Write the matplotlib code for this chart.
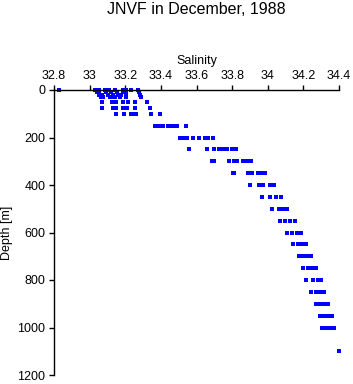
import matplotlib
matplotlib.use("Agg")
import matplotlib.pyplot as plt

plt.rcParams['font.family'] = ['Liberation Sans', 'DejaVu Sans']

depth_levels = [0, 10, 20, 30, 50, 75, 100, 150, 200, 250, 300, 350, 400, 450,
                500, 550, 600, 650, 700, 750, 800, 850, 900, 950, 1000, 1100]

salinity_by_level = [
    [32.83, 33.03, 33.04, 33.055, 33.085, 33.11, 33.145, 33.185, 33.205, 33.23, 33.27],
    [33.041, 33.055, 33.092, 33.122, 33.153, 33.187, 33.204, 33.277],
    [33.055, 33.069, 33.103, 33.131, 33.162, 33.176, 33.207, 33.284],
    [33.064, 33.075, 33.114, 33.137, 33.142, 33.173, 33.207, 33.29],
    [33.071, 33.125, 33.148, 33.187, 33.215, 33.253, 33.323],
    [33.071, 33.131, 33.148, 33.187, 33.209, 33.253, 33.337],
    [33.149, 33.193, 33.232, 33.249, 33.26, 33.346, 33.393],
    [33.366, 33.378, 33.389, 33.413, 33.439, 33.456, 33.473, 33.49, 33.539],
    [33.507, 33.529, 33.549, 33.582, 33.613, 33.647, 33.664, 33.695],
    [33.56, 33.658, 33.697, 33.728, 33.75, 33.773, 33.798, 33.821],
    [33.686, 33.697, 33.784, 33.81, 33.826, 33.86, 33.882, 33.905],
    [33.804, 33.812, 33.888, 33.91, 33.944, 33.967, 33.983],
    [33.902, 33.95, 33.972, 34.011, 34.034],
    [33.97, 34.011, 34.045, 34.073],
    [34.023, 34.065, 34.087, 34.11],
    [34.07, 34.096, 34.124, 34.152],
    [34.11, 34.135, 34.163, 34.188],
    [34.143, 34.168, 34.19, 34.216],
    [34.174, 34.197, 34.219, 34.244],
    [34.2, 34.227, 34.247, 34.27],
    [34.216, 34.255, 34.28, 34.297],
    [34.244, 34.27, 34.292, 34.314],
    [34.27, 34.292, 34.314, 34.337],
    [34.292, 34.314, 34.337, 34.359],
    [34.303, 34.325, 34.348, 34.37],
    [34.398],
]

x_ticks = [32.8, 33.0, 33.2, 33.4, 33.6, 33.8, 34.0, 34.2, 34.4]
x_tick_labels = ['32.8', '33', '33.2', '33.4', '33.6', '33.8', '34', '34.2', '34.4']
y_ticks = [0, 200, 400, 600, 800, 1000, 1200]

sal = []
dep = []
for d, vals in zip(depth_levels, salinity_by_level):
    for v in vals:
        sal.append(v)
        dep.append(d)

W, H = 353, 384
fig = plt.figure(figsize=(W / 100, H / 100), dpi=100)
ax = fig.add_axes([54 / W, 1 - 375 / H, (339 - 54) / W, (375 - 90) / H])

ax.plot(sal, dep, linestyle='none', marker='s', markersize=2.3,
        color='#0000ff', markeredgewidth=0, clip_on=False)

ax.set_xlim(32.8, 34.4)
ax.set_ylim(1200, 0)
ax.xaxis.tick_top()
ax.xaxis.set_label_position('top')
ax.set_xticks(x_ticks)
ax.set_xticklabels(x_tick_labels)
ax.set_yticks(y_ticks)
ax.spines['bottom'].set_visible(False)
ax.spines['right'].set_visible(False)
for s in ['top', 'left']:
    ax.spines[s].set_linewidth(1.0)
ax.tick_params(axis='both', direction='out', length=3.6, width=1.0,
               labelsize=9, pad=2.5)
ax.set_xlabel('Salinity', fontsize=9, labelpad=4)
ax.set_ylabel('Depth [m]', fontsize=9, labelpad=3)

fig.text(196 / W, 1 - 9 / H, 'JNVF in December, 1988', ha='center', va='center',
         fontsize=11.5)

fig.savefig('out.png', dpi=100)
